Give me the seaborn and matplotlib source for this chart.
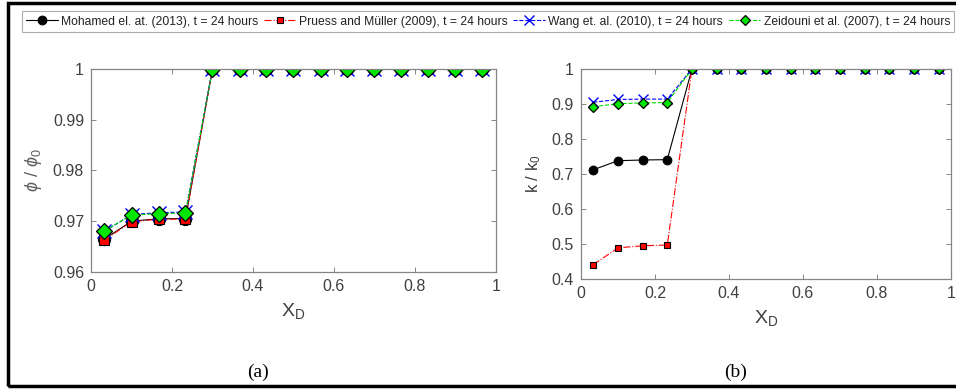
import matplotlib
matplotlib.use("Agg")
import matplotlib.pyplot as plt
import seaborn as sns
import pandas as pd
from matplotlib.patches import Rectangle

# ---------------- data ----------------
x_d = [0.0333, 0.1, 0.1667, 0.2333, 0.3, 0.3667, 0.4333, 0.5, 0.5667,
       0.6333, 0.7, 0.7667, 0.8333, 0.9, 0.9667]

series_names = ["Mohamed el. at. (2013), t = 24 hours",
                "Pruess and Müller (2009), t = 24 hours",
                "Wang et. al. (2010), t = 24 hours",
                "Zeidouni et al. (2007), t = 24 hours"]

phi_mohamed = [0.9665, 0.9700, 0.9705, 0.9705] + [1.0] * 11
phi_pruess = [0.9663, 0.9699, 0.9704, 0.9704] + [1.0] * 11
phi_wang = [0.9680, 0.9713, 0.9717, 0.9718] + [1.0] * 11
phi_zeidouni = [0.9681, 0.9712, 0.9715, 0.9716] + [1.0] * 11

k_mohamed = [0.712, 0.738, 0.740, 0.741] + [1.0] * 11
k_pruess = [0.441, 0.489, 0.495, 0.497] + [1.0] * 11
k_wang = [0.905, 0.913, 0.914, 0.914] + [1.0] * 11
k_zeidouni = [0.892, 0.901, 0.903, 0.904] + [1.0] * 11

phi_ticks = [0.96, 0.97, 0.98, 0.99, 1.0]
phi_ticklabels = ["0.96", "0.97", "0.98", "0.99", "1"]
k_ticks = [0.4, 0.5, 0.6, 0.7, 0.8, 0.9, 1.0]
k_ticklabels = ["0.4", "0.5", "0.6", "0.7", "0.8", "0.9", "1"]
x_ticks = [0, 0.2, 0.4, 0.6, 0.8, 1.0]
x_ticklabels = ["0", "0.2", "0.4", "0.6", "0.8", "1"]

# ---------------- style ----------------
sns.set_style("white")
plt.rcParams["font.family"] = ["Liberation Sans", "DejaVu Sans"]
plt.rcParams["mathtext.fontset"] = "custom"
plt.rcParams["mathtext.rm"] = "Liberation Sans"
plt.rcParams["mathtext.it"] = "Liberation Sans:italic"

def make_styles(scale):
    return [
        dict(color="black", linestyle="-", marker="o", markersize=6.3 * scale,
             markerfacecolor="black", markeredgecolor="black", linewidth=0.8),
        dict(color="red", linestyle="-.", marker="s", markersize=5.0 * scale,
             markerfacecolor="red", markeredgecolor="black", markeredgewidth=0.8,
             linewidth=0.8),
        dict(color="blue", linestyle="--", marker="x", markersize=7.5 * scale,
             markeredgecolor="blue", markeredgewidth=1.0, linewidth=0.8),
        dict(color="#00dd00", linestyle="--", marker="D", markersize=5.6 * scale,
             markerfacecolor="#00e600", markeredgecolor="black",
             markeredgewidth=0.9, linewidth=0.8),
    ]

text_c = "#404040"
spine_c = "#858585"

fig = plt.figure(figsize=(9.56, 3.9), dpi=100)
ax1 = fig.add_axes([0.0952, 0.3026, 0.4236, 0.5205])
ax2 = fig.add_axes([0.6077, 0.2846, 0.3870, 0.5385])

phi_data = [phi_mohamed, phi_pruess, phi_wang, phi_zeidouni]
k_data = [k_mohamed, k_pruess, k_wang, k_zeidouni]

for ax, data, scale in ((ax1, phi_data, 1.4), (ax2, k_data, 1.0)):
    for name, vals, st in zip(series_names, data, make_styles(scale)):
        df = pd.DataFrame({"x": x_d, "y": vals})
        sns.lineplot(data=df, x="x", y="y", ax=ax, legend=False,
                     estimator=None, sort=False, **st)

def style_axes(ax, yticks, ylabels, ylim):
    ax.set_xlim(0, 1)
    ax.set_ylim(*ylim)
    ax.set_xticks(x_ticks)
    ax.set_xticklabels(x_ticklabels)
    ax.set_yticks(yticks)
    ax.set_yticklabels(ylabels)
    ax.tick_params(direction="in", length=3.5, width=0.7, colors=spine_c,
                   labelcolor=text_c, labelsize=11.5, top=True, right=True,
                   bottom=True, left=True, pad=5)
    for s in ax.spines.values():
        s.set_color(spine_c)
        s.set_linewidth(0.9)
        s.set_visible(True)

style_axes(ax1, phi_ticks, phi_ticklabels, (0.96, 1.0))
style_axes(ax2, k_ticks, k_ticklabels, (0.4, 1.0))

ax1.set_xlabel(r"X$_\mathregular{D}$", fontsize=14, color=text_c, labelpad=5)
ax2.set_xlabel(r"X$_\mathregular{D}$", fontsize=14, color=text_c, labelpad=5)
ax1.set_ylabel(r"$\phi$ / $\phi_0$", fontsize=13, color="#606060", labelpad=6)
ax2.set_ylabel(r"k / k$_\mathregular{0}$", fontsize=12, color=text_c, labelpad=6)

for ax, lab, xpos in ((ax1, "(a)", 258 / 956), (ax2, "(b)", 736 / 956)):
    fig.text(xpos, 1 - 372 / 390, lab, ha="center", va="center",
             fontsize=14, family=["Liberation Serif", "DejaVu Serif"], color="black")

# legend across the top
leg = fig.legend(ax2.lines[:4], series_names, loc="center",
                 bbox_to_anchor=(488 / 956, 1 - 21.5 / 390), ncol=4,
                 fontsize=8.75, frameon=True, fancybox=False, handlelength=2.6,
                 handletextpad=0.25, columnspacing=0.5, borderpad=0.35,
                 borderaxespad=0)
leg.get_frame().set_edgecolor("#999999")
leg.get_frame().set_linewidth(0.8)
for t in leg.get_texts():
    t.set_color("#222222")

# outer black frame
fig.patches.append(Rectangle((8 / 956, 1 - 386 / 390), 1.05, (386 - 3) / 390,
                             transform=fig.transFigure, fill=False,
                             edgecolor="black", linewidth=2.5, clip_on=False))

fig.savefig("out.png", dpi=100)
